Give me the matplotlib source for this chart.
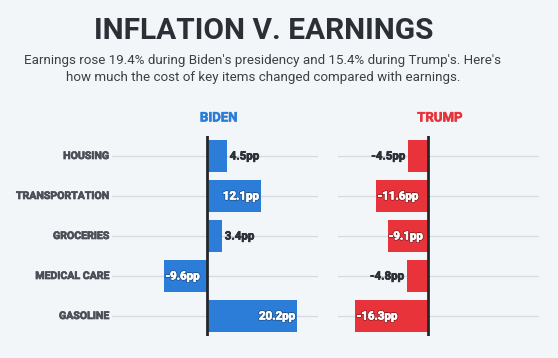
import matplotlib
matplotlib.use("Agg")
import matplotlib.pyplot as plt
import matplotlib.patheffects as pe

categories = ["HOUSING", "TRANSPORTATION", "GROCERIES", "MEDICAL CARE", "GASOLINE"]
biden = [4.5, 12.1, 3.4, -9.6, 20.2]
trump = [-4.5, -11.6, -9.1, -4.8, -16.3]
biden_labels = ["4.5pp", "12.1pp", "3.4pp", "-9.6pp", "20.2pp"]
trump_labels = ["-4.5pp", "-11.6pp", "-9.1pp", "-4.8pp", "-16.3pp"]

BG = "#f3f6f9"
BLUE = "#2c7dd8"
RED = "#e8333b"
DARK = "#2b3036"
GRID = "#d6dbe1"
FONT = "Roboto"

W, H = 558, 358
scale = 4.45  # pixels per pp

fig = plt.figure(figsize=(W / 100, H / 100), dpi=100, facecolor=BG)


def thick(c, w=0.5):
    # fake a heavier weight by stroking the glyphs in their own colour
    return [pe.withStroke(linewidth=w, foreground=c)]


fig.text(264 / W, 1 - 31 / H, "INFLATION V. EARNINGS", ha="center", va="center",
         fontsize=21.5, fontweight="bold", color=DARK, family=FONT)
fig.text(263 / W, 1 - 69 / H,
         "Earnings rose 19.4% during Biden's presidency and 15.4% during Trump's. Here's\n"
         "how much the cost of key items changed compared with earnings.",
         ha="center", va="center", fontsize=9.6, color="#3b4046", family=FONT,
         linespacing=1.35)


def panel(left_px, right_px, zero_px, values, labels, color, stroke, name):
    ax = fig.add_axes([left_px / W, (H - 336) / H, (right_px - left_px) / W, 200 / H])
    ax.set_facecolor("none")
    ax.set_xlim((left_px - zero_px) / scale, (right_px - zero_px) / scale)
    ax.set_ylim(4.5, -0.5)
    for s in ax.spines.values():
        s.set_visible(False)
    ax.set_xticks([])
    ax.set_yticks([])
    y = list(range(len(values)))
    for yi in y:
        ax.axhline(yi, color=GRID, lw=1, zorder=0)
    ax.barh(y, values, height=0.8, color=color, zorder=2)
    ax.axvline(0, color="#23272c", lw=2, zorder=3)
    for yi, v, lab in zip(y, values, labels):
        if abs(v) > 9:
            x = v - 0.4 if v > 0 else v + 0.3
            ax.text(x, yi, lab, ha="right" if v > 0 else "left", va="center",
                    fontsize=8.3, fontweight="bold", color="white", family=FONT,
                    zorder=4, path_effects=[pe.Stroke(linewidth=1.6, foreground=stroke),
                                            pe.Stroke(linewidth=0.5, foreground="white"),
                                            pe.Normal()])
        else:
            x = v + 0.6 if v > 0 else v - 0.6
            ax.text(x, yi, lab, ha="left" if v > 0 else "right", va="center",
                    fontsize=8.3, fontweight="bold", color=DARK, family=FONT, zorder=4,
                    path_effects=thick(DARK))
    fig.text((zero_px + 12) / W, 1 - 118 / H, name, ha="center", va="center",
             fontsize=9.5, fontweight="bold", color=color, family=FONT,
             path_effects=thick(color, 0.4))
    return ax


ax1 = panel(112, 318, 207, biden, biden_labels, BLUE, "#1d4f8a", "BIDEN")
ax2 = panel(338, 539, 428, trump, trump_labels, RED, "#8a1d22", "TRUMP")

for yi, cat in enumerate(categories):
    ax1.text(-0.015, yi, cat, transform=ax1.get_yaxis_transform(), ha="right",
             va="center", fontsize=7.6, fontweight="bold", color="#4b5057", family=FONT,
             path_effects=thick("#4b5057"))

fig.savefig("out.png", dpi=100, facecolor=BG)
